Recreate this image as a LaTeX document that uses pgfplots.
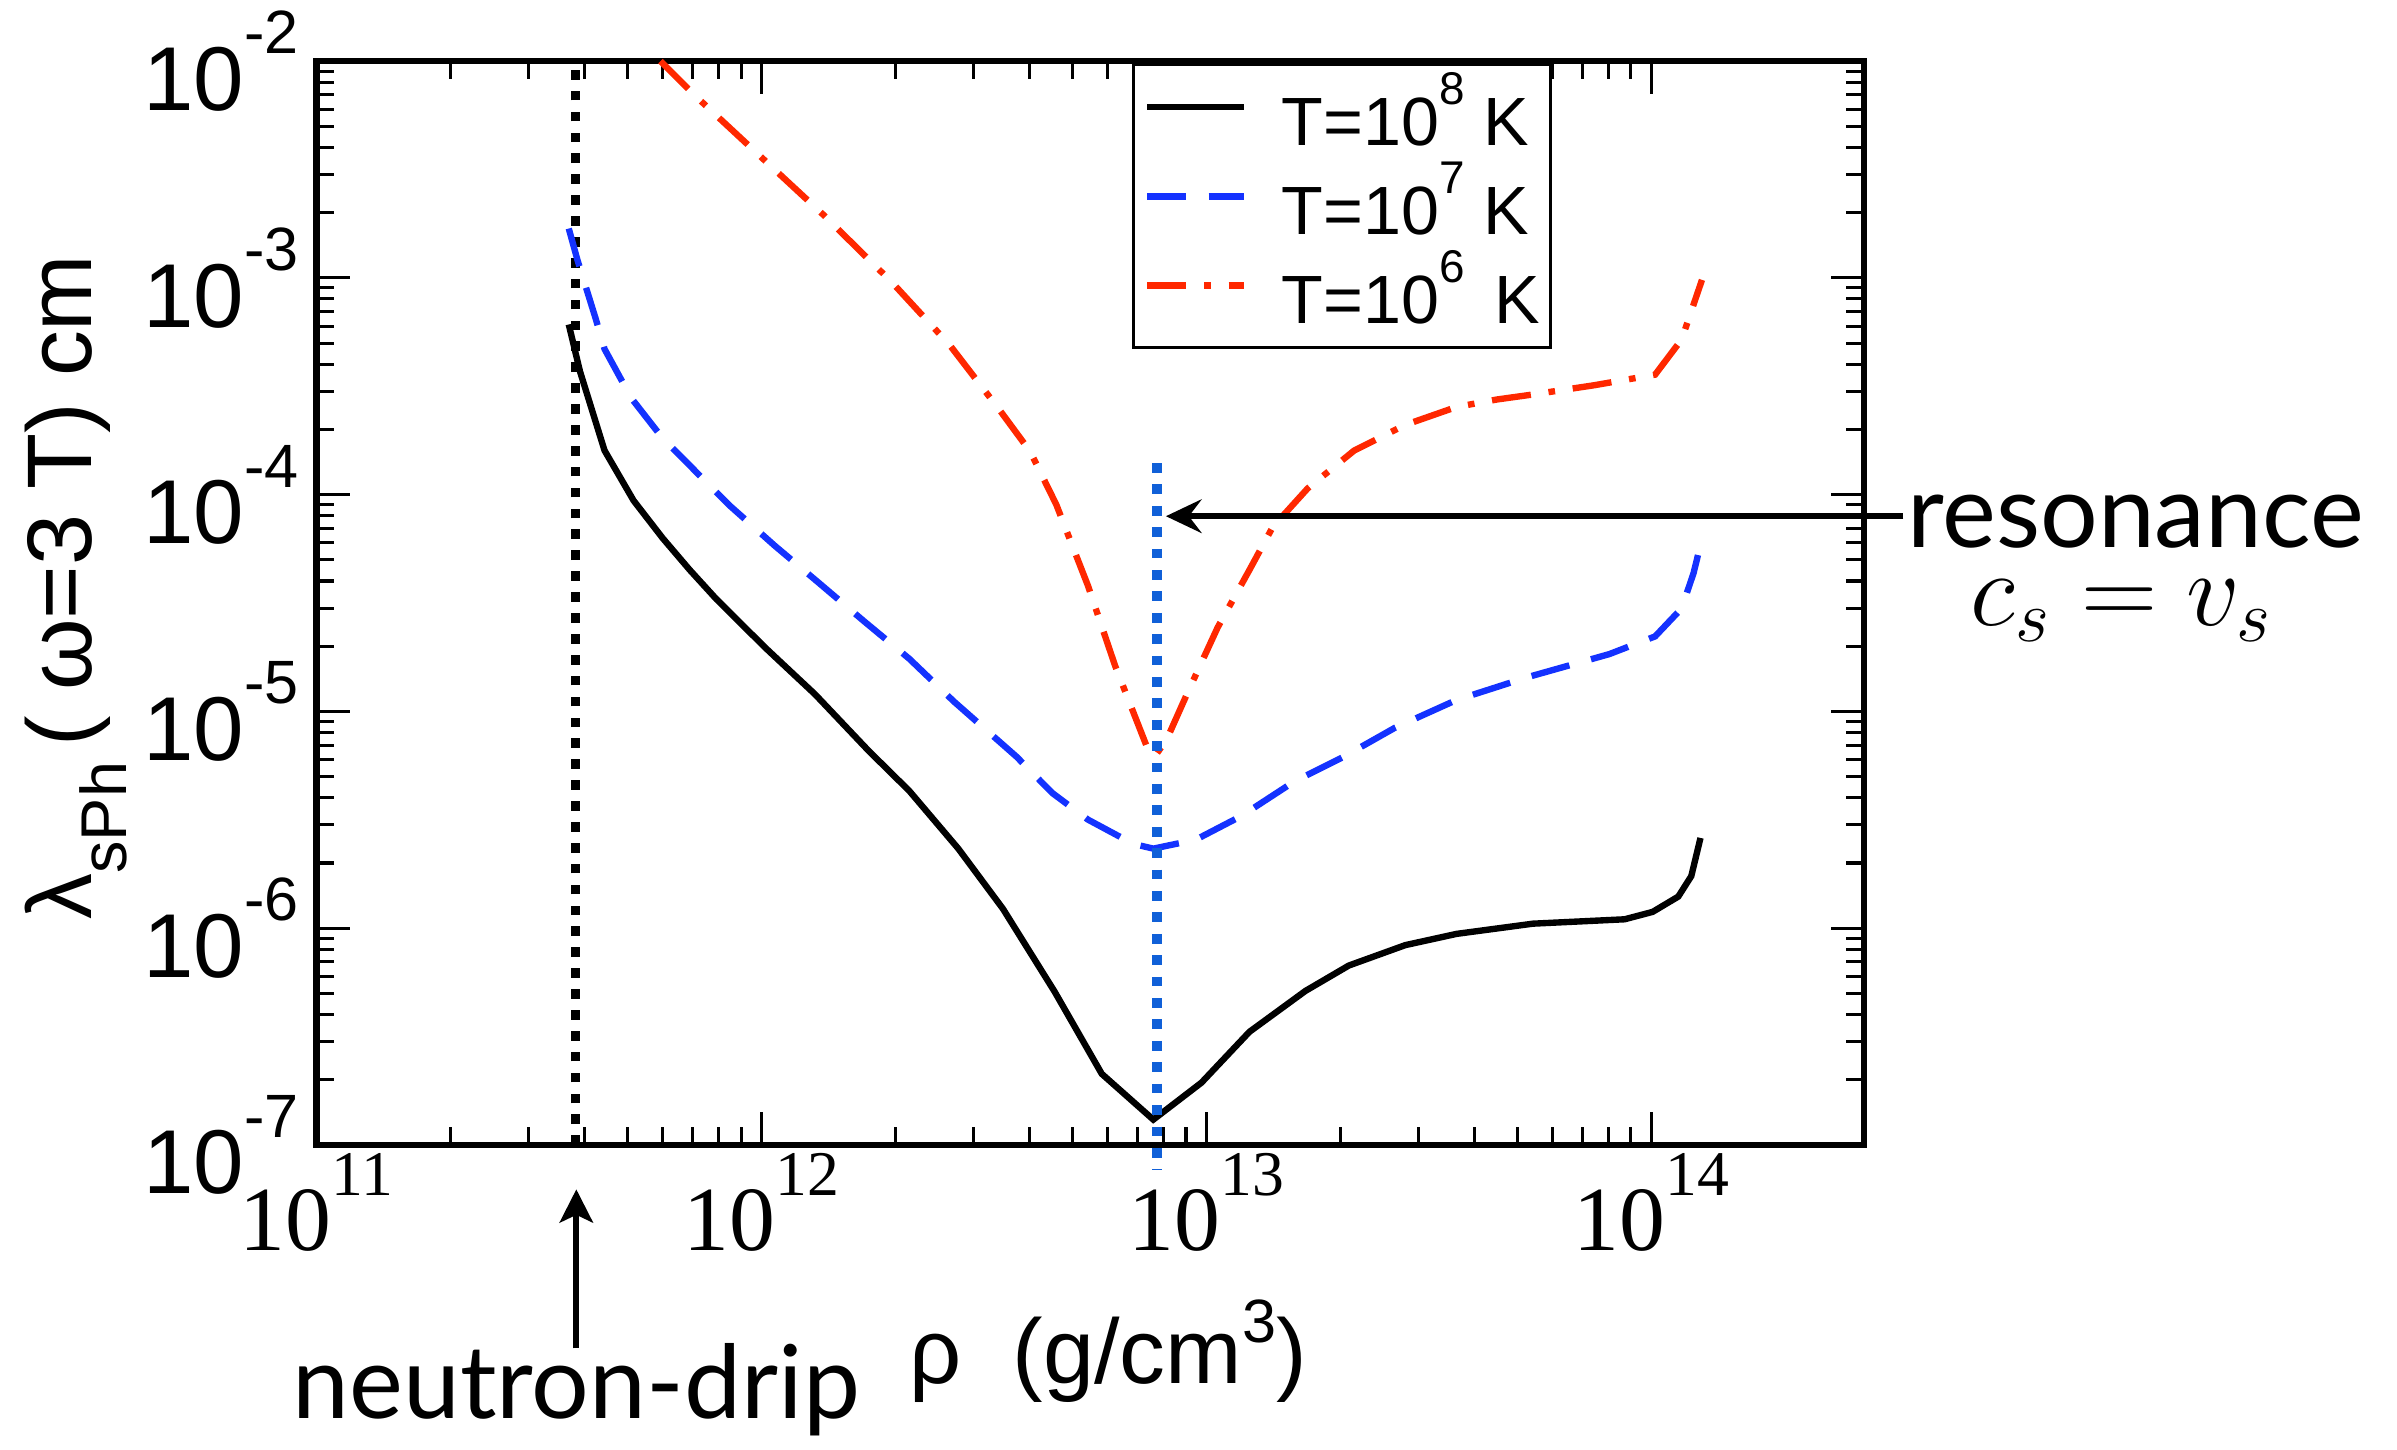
\documentclass[border=0pt]{standalone}
\usepackage{pgfplots}
\pgfplotsset{compat=1.18}
\usepackage{fontspec}
\setmainfont{Liberation Sans}
\newfontfamily\timesf{Liberation Serif}
\newfontfamily\gillf{Lato}
\usetikzlibrary{arrows.meta}

\definecolor{cred}{RGB}{255,40,0}
\definecolor{cblue}{RGB}{20,50,255}
\definecolor{cres}{RGB}{16,96,216}

\newcommand{\xtl}[1]{{\timesf\fontsize{18}{18}\selectfont 10\raisebox{10.8pt}{\fontsize{12.5}{12.5}\selectfont #1}}}
\newcommand{\ytl}[1]{{\fontsize{17.8}{17.8}\selectfont 10\raisebox{11.1pt}{\fontsize{12}{12}\selectfont -#1}}}
\newcommand{\leg}[1]{T=10\raisebox{8pt}{\fontsize{9}{9}\selectfont #1}}

\pgfplotstableread{
x y
3.69e11 6.1e-4
3.91e11 3.71e-4
4.44e11 1.6e-4
5.16e11 9.4e-5
6.0e11 6.3e-5
6.9e11 4.5e-5
7.92e11 3.3e-5
1.02e12 1.97e-5
1.32e12 1.2e-5
1.74e12 6.6e-6
2.15e12 4.3e-6
2.77e12 2.33e-6
3.49e12 1.23e-6
4.56e12 5.1e-7
5.82e12 2.13e-7
7.6e12 1.31e-7
9.75e12 1.94e-7
1.25e13 3.33e-7
1.67e13 5.14e-7
2.09e13 6.73e-7
2.80e13 8.36e-7
3.65e13 9.42e-7
5.42e13 1.05e-6
8.71e13 1.10e-6
1.007e14 1.19e-6
1.15e14 1.40e-6
1.23e14 1.74e-6
1.29e14 2.61e-6
}\tblack

\pgfplotstableread{
x y
3.69e11 1.69e-3
3.86e11 1.21e-3
4.24e11 6.5e-4
4.44e11 4.7e-4
5.1e11 2.79e-4
6.0e11 1.82e-4
8.49e11 8.9e-5
1.07e12 5.83e-5
1.35e12 3.9e-5
1.70e12 2.61e-5
2.15e12 1.75e-5
2.71e12 1.11e-5
3.74e12 6.2e-6
4.51e12 4.2e-6
5.42e12 3.17e-6
6.85e12 2.45e-6
7.6e12 2.33e-6
9.46e12 2.56e-6
1.2e13 3.3e-6
1.57e13 4.73e-6
2.04e13 6.2e-6
2.65e13 8.4e-6
3.65e13 1.13e-5
5.27e13 1.44e-5
8.05e13 1.84e-5
1.02e14 2.22e-5
1.17e14 2.99e-5
1.245e14 4.36e-5
1.29e14 5.87e-5
}\tblue

\pgfplotstableread{
x y
5.93e11 1.0e-2
7.06e11 7.0e-3
1.0e12 3.6e-3
1.38e12 1.95e-3
1.96e12 9.6e-4
2.65e12 4.9e-4
3.41e12 2.5e-4
4.02e12 1.58e-4
4.6e12 9.0e-5
5.42e12 3.8e-5
6.24e12 1.62e-5
7.43e12 6.5e-6
7.7e12 6.3e-6
8.15e12 7.45e-6
9.04e12 1.2e-5
1.06e13 2.44e-5
1.25e13 4.5e-5
1.41e13 7.1e-5
1.69e13 1.07e-4
2.15e13 1.6e-4
2.8e13 2.1e-4
3.65e13 2.54e-4
4.5e13 2.75e-4
5.42e13 2.9e-4
7.45e13 3.2e-4
1.02e14 3.58e-4
1.17e14 5.2e-4
1.3e14 9.8e-4
}\tred

\begin{document}
\begin{tikzpicture}
\path[use as bounding box] (-62.1pt,-59.7pt) rectangle (408.3pt,224.7pt);
\begin{axis}[
  at={(0pt,0pt)}, anchor=south west,
  scale only axis, width=303.6pt, height=212.7pt,
  xmode=log, ymode=log,
  xmin=1e11, xmax=3.0e14, ymin=1e-7, ymax=1e-2,
  clip=false,
  xtick={1e11,1e12,1e13,1e14},
  xticklabels={\xtl{11},\xtl{12},\xtl{13},\xtl{14}},
  ytick={1e-7,1e-6,1e-5,1e-4,1e-3,1e-2},
  yticklabels={\ytl{7},\ytl{6},\ytl{5},\ytl{4},\ytl{3},\ytl{2}},
  axis line style={line width=1.2pt},
  every tick/.style={black, line width=0.6pt},
  major tick length=6.5pt, minor tick length=3.5pt,
  xticklabel style={anchor=north, inner sep=0pt, yshift=-1.5pt},
  yticklabel style={anchor=east, inner sep=0pt, xshift=-3.3pt},
  legend style={at={(0.5269,0.998)}, anchor=north west, draw=black, line width=0.6pt,
    fill=white, inner xsep=2.1pt, inner ysep=1.5pt, row sep=0pt,
    nodes={inner sep=0pt, text height=14.3pt, text depth=3.2pt},
    /tikz/every odd column/.append style={column sep=6.7pt},
    font=\fontsize{13.4}{13.4}\selectfont},
  legend cell align=left,
  legend image code/.code={\draw[#1] (0pt,1.95pt) -- (19.1pt,1.95pt);},
]
\addplot[black, line width=1.9pt, dash pattern=on 1.9pt off 2.2pt, forget plot]
  coordinates {(3.82e11,1e-7) (3.82e11,1e-2)};
\addplot[black, line width=1.25pt] table {\tblack};
\addlegendentry{\leg{8} K}
\addplot[cblue, line width=1.25pt, dash pattern=on 7.7pt off 4.4pt] table {\tblue};
\addlegendentry{\leg{7} K}
\addplot[cred, line width=1.25pt, dash pattern=on 7.7pt off 3.5pt on 1.3pt off 3.5pt] table {\tred};
\addlegendentry{\leg{6}\hspace{2.1pt} K}
\addplot[cres, line width=1.9pt, dash pattern=on 1.9pt off 2.3pt, forget plot]
  coordinates {(7.75e12,1.4e-4) (7.75e12,7.7e-8)};
\end{axis}
\draw[line width=1.1pt, -{Stealth[length=7pt, width=6.6pt, inset=2.5pt]}] (311.4pt,123.4pt) -- (166.7pt,123.4pt);
\draw[line width=1.2pt, -{Stealth[length=6.5pt, width=6.5pt, inset=1.5pt]}] (51pt,-39.9pt) -- (51pt,-8.7pt);
\node[anchor=base west, inner sep=0pt, font=\gillf\fontsize{20}{20}\selectfont] at (312pt,117.3pt) {resonance};
\node[anchor=base, inner sep=0pt, font=\fontsize{20.4}{20.4}\selectfont] at (354.3pt,102pt) {$c_s = v_s$};
\node[anchor=base, inner sep=0pt, font=\gillf\fontsize{20}{20}\selectfont] at (51pt,-53.7pt) {neutron-drip};
\node[anchor=base, inner sep=0pt, font=\fontsize{18}{18}\selectfont] at (155.4pt,-46.8pt) {ρ\ \ (g/cm\raisebox{8pt}{\fontsize{12}{12}\selectfont 3})};
\node[rotate=90, anchor=base, inner sep=0pt, font=\fontsize{18}{18}\selectfont] at (-44.1pt,109.5pt) {λ\raisebox{-6.9pt}{\fontsize{12.7}{12.7}\selectfont sPh}\,( ω=3 T) cm};
\end{tikzpicture}
\end{document}
